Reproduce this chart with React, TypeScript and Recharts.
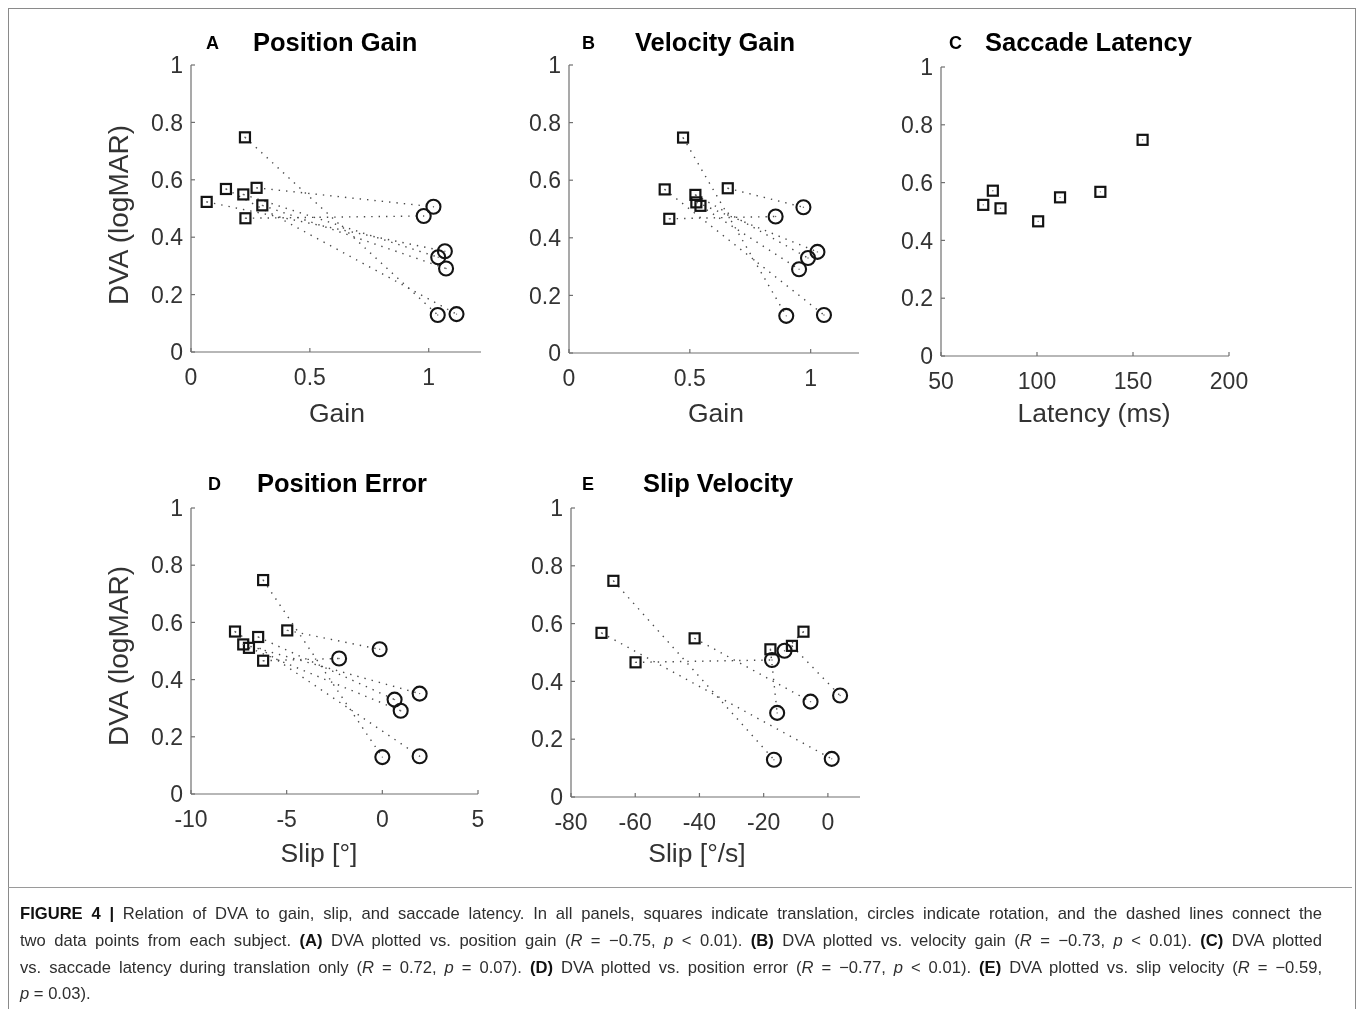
import React from 'react';
import { ScatterChart, Scatter, XAxis, YAxis } from 'recharts';

// one entry per subject: square = translation, circle = rotation
const subjects = ['S1', 'S2', 'S3', 'S4', 'S5', 'S6', 'S7'];
const dvaTranslation = [0.748, 0.568, 0.466, 0.549, 0.511, 0.523, 0.572];
const dvaRotation = [0.129, 0.132, 0.474, 0.33, 0.291, 0.351, 0.506];

const posGainTranslation = [0.227, 0.147, 0.229, 0.22, 0.3, 0.066, 0.276];
const posGainRotation = [1.038, 1.117, 0.979, 1.04, 1.073, 1.068, 1.02];
const velGainTranslation = [0.472, 0.396, 0.415, 0.523, 0.544, 0.527, 0.657];
const velGainRotation = [0.899, 1.055, 0.855, 0.989, 0.952, 1.028, 0.97];
const latencyTranslation = [155, 133, 100.6, 112, 81, 72, 77];
const posErrTranslation = [-6.23, -7.7, -6.23, -6.49, -6.97, -7.27, -4.97];
const posErrRotation = [0.0, 1.95, -2.26, 0.64, 0.96, 1.95, -0.14];
const slipVelTranslation = [-66.8, -70.5, -59.9, -41.5, -17.9, -11.2, -7.6];
const slipVelRotation = [-16.8, 1.2, -17.4, -5.4, -15.8, 3.8, -13.5];

const dvaTicks = [0, 0.2, 0.4, 0.6, 0.8, 1];
const gainTicks = [0, 0.5, 1];
const latencyTicks = [50, 100, 150, 200];
const posErrTicks = [-10, -5, 0, 5];
const slipVelTicks = [-80, -60, -40, -20, 0];

const FONT = '"Liberation Sans", Arial, Helvetica, sans-serif';
const AXIS_COLOR = '#707070';
const TICK_COLOR = '#333';
const MARK_COLOR = '#141414';
const LINE_COLOR = '#4a4a4a';
const Y_MARGIN = 8;
const X_MARGIN = 16;
const Y_AXIS_W = 60;
const PAD_TOP = 14;
const PAD_RIGHT = 30;
const X_AXIS_H = 44;
const OFF = 8; // body margin

function YTick(props: any) {
  const { x, y, payload } = props;
  return (
    <g>
      <line x1={x + Y_MARGIN} x2={x + Y_MARGIN + 4} y1={y} y2={y} stroke={AXIS_COLOR} strokeWidth={1.2} />
      <text x={x} y={y} dy="0.36em" textAnchor="end" fill={TICK_COLOR} fontSize={23} fontFamily={FONT}>
        {String(payload.value)}
      </text>
    </g>
  );
}

function XTick(props: any) {
  const { x, y, payload } = props;
  return (
    <g>
      <line x1={x} x2={x} y1={y - X_MARGIN} y2={y - X_MARGIN - 4} stroke={AXIS_COLOR} strokeWidth={1.2} />
      <text x={x} y={y} dy="0.72em" textAnchor="middle" fill={TICK_COLOR} fontSize={23} fontFamily={FONT}>
        {String(payload.value)}
      </text>
    </g>
  );
}

const SquareMark = (p: any) => (
  <g>
    <rect x={p.cx - 5} y={p.cy - 5} width={10} height={10} fill="none" stroke={MARK_COLOR} strokeWidth={2.2} />
    <circle cx={p.cx} cy={p.cy} r={0.7} fill="#666" />
  </g>
);

const CircleMark = (p: any) => (
  <g>
    <circle cx={p.cx} cy={p.cy} r={7} fill="none" stroke={MARK_COLOR} strokeWidth={2.1} />
    <circle cx={p.cx} cy={p.cy} r={0.7} fill="#666" />
  </g>
);

const NoMark = () => <g />;

interface PanelProps {
  left: number;
  top: number;
  width: number;
  height: number;
  xDomain: [number, number];
  xTicks: number[];
  xT: number[];
  xR?: number[];
}

function Panel({ left, top, width, height, xDomain, xTicks, xT, xR }: PanelProps) {
  const squares = xT.map((x, i) => ({ x, y: dvaTranslation[i] }));
  const circles = xR ? xR.map((x, i) => ({ x, y: dvaRotation[i] })) : [];

  return (
    <div style={{ position: 'absolute', left: left - Y_AXIS_W - OFF, top: top - PAD_TOP - OFF }}>
      <ScatterChart
        width={width + Y_AXIS_W + PAD_RIGHT}
        height={height + PAD_TOP + X_AXIS_H}
        margin={{ top: PAD_TOP, right: PAD_RIGHT, bottom: 0, left: 0 }}
      >
        <XAxis
          type="number"
          dataKey="x"
          domain={xDomain}
          ticks={xTicks}
          interval={0}
          height={X_AXIS_H}
          tickSize={0}
          tickMargin={X_MARGIN}
          tickLine={false}
          tick={<XTick />}
          axisLine={{ stroke: AXIS_COLOR, strokeWidth: 1.2 }}
        />
        <YAxis
          type="number"
          dataKey="y"
          domain={[0, 1]}
          ticks={dvaTicks}
          interval={0}
          width={Y_AXIS_W}
          tickSize={0}
          tickMargin={Y_MARGIN}
          tickLine={false}
          tick={<YTick />}
          axisLine={{ stroke: AXIS_COLOR, strokeWidth: 1.2 }}
        />
        {xR &&
          subjects.map((s, i) => (
            <Scatter
              key={s}
              data={[squares[i], circles[i]]}
              line={{ stroke: LINE_COLOR, strokeWidth: 1.4, strokeDasharray: '1.4 6' }}
              shape={NoMark}
              isAnimationActive={false}
            />
          ))}
        <Scatter data={squares} shape={SquareMark} isAnimationActive={false} />
        {xR && <Scatter data={circles} shape={CircleMark} isAnimationActive={false} />}
      </ScatterChart>
    </div>
  );
}

const titles = [
  { letter: 'A', lx: 206, text: 'Position Gain', tx: 253, y: 51 },
  { letter: 'B', lx: 582, text: 'Velocity Gain', tx: 635, y: 51 },
  { letter: 'C', lx: 949, text: 'Saccade Latency', tx: 985, y: 51 },
  { letter: 'D', lx: 208, text: 'Position Error', tx: 257, y: 492 },
  { letter: 'E', lx: 582, text: 'Slip Velocity', tx: 643, y: 492 },
];

const xLabels = [
  { text: 'Gain', x: 337, y: 422 },
  { text: 'Gain', x: 716, y: 422 },
  { text: 'Latency (ms)', x: 1094, y: 422 },
  { text: 'Slip [°]', x: 319, y: 862 },
  { text: 'Slip [°/s]', x: 697, y: 862 },
];

const yLabels = [
  { x: 128, y: 215 },
  { x: 128, y: 656 },
];

const I = ({ children }: { children: React.ReactNode }) => <i>{children}</i>;
const B = ({ children }: { children: React.ReactNode }) => <b style={{ color: '#111' }}>{children}</b>;

export default function App() {
  const lineStyle: React.CSSProperties = {
    whiteSpace: 'nowrap',
    textAlign: 'justify',
    textAlignLast: 'justify',
    height: 27,
  };
  return (
    <div style={{ position: 'relative', width: 1344, height: 993, fontFamily: FONT }}>
      <div
        style={{
          position: 'fixed',
          left: 8,
          top: 8,
          width: 1348,
          height: 1020,
          boxSizing: 'border-box',
          border: '1px solid #8a8a8a',
          borderBottom: 'none',
        }}
      />
      <div style={{ position: 'absolute', left: 0, top: 887 - OFF, width: 1348, height: 1, background: '#9a9a9a' }} />

      <Panel left={191} top={65} width={290} height={287} xDomain={[0, 1.22]} xTicks={gainTicks} xT={posGainTranslation} xR={posGainRotation} />
      <Panel left={569} top={65} width={290} height={288} xDomain={[0, 1.2]} xTicks={gainTicks} xT={velGainTranslation} xR={velGainRotation} />
      <Panel left={941} top={67} width={288} height={289} xDomain={[50, 200]} xTicks={latencyTicks} xT={latencyTranslation} />
      <Panel left={191} top={508} width={287} height={286} xDomain={[-10, 5]} xTicks={posErrTicks} xT={posErrTranslation} xR={posErrRotation} />
      <Panel left={571} top={508} width={289} height={289} xDomain={[-80, 10]} xTicks={slipVelTicks} xT={slipVelTranslation} xR={slipVelRotation} />

      <svg width={1344} height={880} style={{ position: 'absolute', left: 0, top: 0, pointerEvents: 'none' }}>
        {titles.map((t) => (
          <g key={t.letter}>
            <text x={t.lx - OFF} y={t.y - OFF - 2} fontSize={18} fontWeight="bold" fill="#000" fontFamily={FONT}>
              {t.letter}
            </text>
            <text x={t.tx - OFF} y={t.y - OFF} fontSize={25.5} fontWeight="bold" fill="#000" fontFamily={FONT}>
              {t.text}
            </text>
          </g>
        ))}
        {xLabels.map((l, i) => (
          <text key={i} x={l.x - OFF} y={l.y - OFF} fontSize={26.5} textAnchor="middle" fill={TICK_COLOR} fontFamily={FONT}>
            {l.text}
          </text>
        ))}
        {yLabels.map((l, i) => (
          <text
            key={i}
            x={l.x - OFF}
            y={l.y - OFF}
            fontSize={28}
            textAnchor="middle"
            fill={TICK_COLOR}
            fontFamily={FONT}
            transform={`rotate(-90 ${l.x - OFF} ${l.y - OFF})`}
          >
            DVA (logMAR)
          </text>
        ))}
      </svg>

      <div
        style={{
          position: 'fixed',
          left: 20,
          top: 900,
          width: 1302,
          fontSize: 16.6,
          lineHeight: '27px',
          color: '#2e2e2e',
        }}
      >
        <div style={lineStyle}>
          <B>FIGURE 4 |</B> Relation of DVA to gain, slip, and saccade latency. In all panels, squares indicate translation, circles indicate rotation, and the dashed lines connect the
        </div>
        <div style={lineStyle}>
          two data points from each subject. <B>(A)</B> DVA plotted vs. position gain (<I>R</I> = −0.75, <I>p</I> &lt; 0.01). <B>(B)</B> DVA plotted vs. velocity gain (<I>R</I> = −0.73, <I>p</I> &lt; 0.01). <B>(C)</B> DVA plotted
        </div>
        <div style={lineStyle}>
          vs. saccade latency during translation only (<I>R</I> = 0.72, <I>p</I> = 0.07). <B>(D)</B> DVA plotted vs. position error (<I>R</I> = −0.77, <I>p</I> &lt; 0.01). <B>(E)</B> DVA plotted vs. slip velocity (<I>R</I> = −0.59,
        </div>
        <div style={{ whiteSpace: 'nowrap', lineHeight: '19px', paddingTop: 3 }}>
          <I>p</I> = 0.03).
        </div>
      </div>
    </div>
  );
}
